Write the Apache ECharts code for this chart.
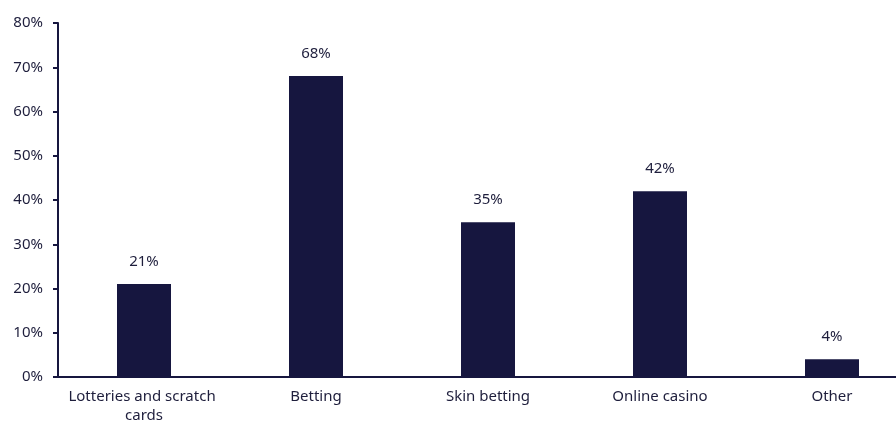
<!DOCTYPE html>
<html>
<head>
<meta charset="utf-8">
<script src="https://cdn.jsdelivr.net/npm/echarts@6/dist/echarts.min.js"></script>
<style>
  html, body { margin: 0; padding: 0; background: #fff; }
  #chart { width: 896px; height: 428px; }
</style>
</head>
<body>
<div id="chart"></div>
<script>
const categories = ["Lotteries and scratch cards", "Betting", "Skin betting", "Online casino", "Other"];
const shares = [21, 68, 35, 42, 4];

const navy = "#16163f";
const textColor = "#1e1e3c";

const chart = echarts.init(document.getElementById("chart"));

const option = {
  animation: false,
  textStyle: { fontFamily: "'Noto Sans', sans-serif" },
  grid: {
    left: 58,
    top: 23,
    width: 860,
    bottom: 51,
    outerBoundsMode: "none",
  },
  xAxis: {
    type: "category",
    data: categories,
    axisLine: { show: true, lineStyle: { color: navy, width: 2 } },
    axisTick: { show: false },
    axisLabel: {
      color: textColor,
      fontSize: 15,
      margin: 10,
      width: 170,
      overflow: "break",
      lineHeight: 19,
      interval: 0,
    },
  },
  yAxis: {
    type: "value",
    min: 0,
    max: 80,
    interval: 10,
    axisLine: { show: true, lineStyle: { color: navy, width: 2 } },
    axisTick: { show: true, length: 5, lineStyle: { color: navy, width: 2 } },
    splitLine: { show: false },
    axisLabel: {
      color: textColor,
      fontSize: 15,
      margin: 15,
      formatter: "{value}%",
    },
  },
  series: [
    {
      type: "bar",
      data: shares,
      barWidth: 54,
      itemStyle: { color: navy },
      label: {
        show: true,
        position: "top",
        distance: 15,
        color: textColor,
        fontSize: 15,
        formatter: "{c}%",
      },
    },
  ],
};

chart.setOption(option);
</script>
</body>
</html>
